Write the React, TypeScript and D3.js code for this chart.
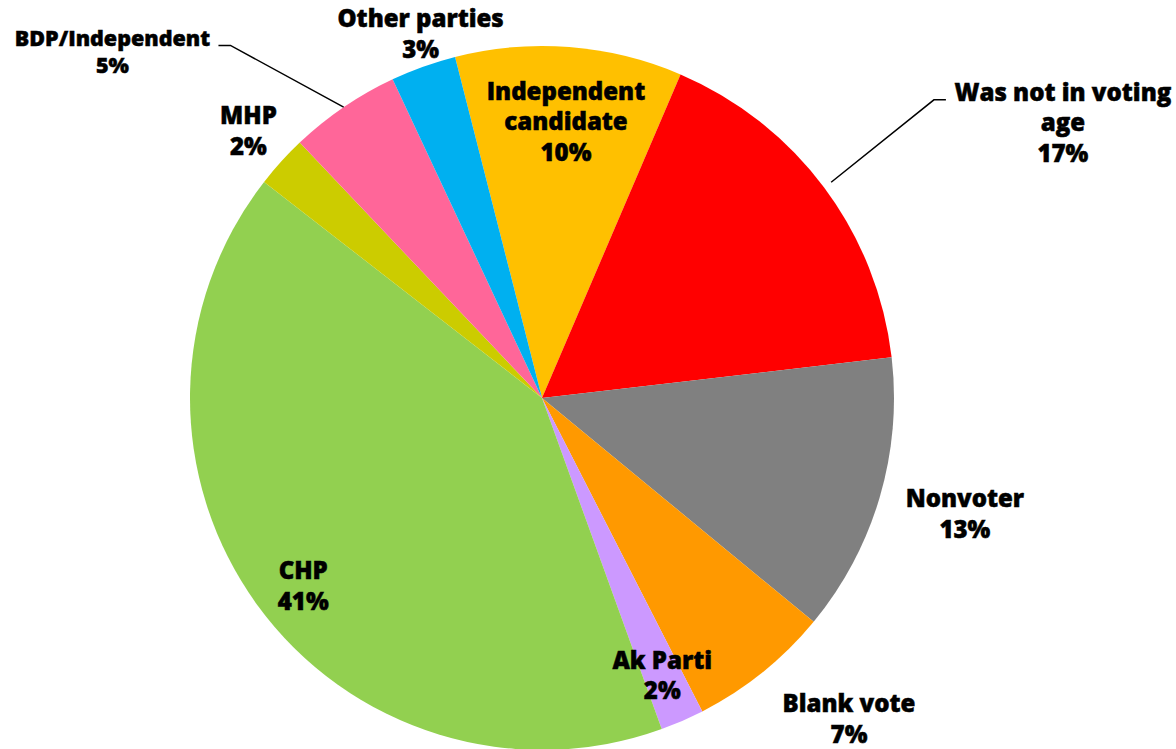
import React from "react";
import * as d3 from "d3";

// ─── Data ─────────────────────────────────────────────────────────────────────
const CATEGORIES = [
  "Independent candidate",
  "Was not in voting age",
  "Nonvoter",
  "Blank vote",
  "Ak Parti",
  "CHP",
  "MHP",
  "BDP/Independent",
  "Other parties",
];
const SHARES = [10.4, 16.7, 12.8, 6.5, 2.0, 41.0, 2.4, 5.1, 3.0];
// how each label wraps
const LABEL_LINES = [
  ["Independent", "candidate"],
  ["Was not in voting", "age"],
  ["Nonvoter"],
  ["Blank vote"],
  ["Ak Parti"],
  ["CHP"],
  ["MHP"],
  ["BDP/Independent"],
  ["Other parties"],
];

// ─── Design tokens ────────────────────────────────────────────────────────────
const W = 1176;
const H = 749;
const CX = 542;
const CY = 398;
const R = 352;
const START_DEG = -14.3;
const COLORS = [
  "#FFC000",
  "#FF0000",
  "#808080",
  "#FF9900",
  "#CC99FF",
  "#92D050",
  "#CCCC00",
  "#FF6699",
  "#00B0F0",
];
const FONT = "'Open Sans', Roboto, 'Liberation Sans', Arial, sans-serif";

// label placement: radius as a fraction of R, angle offset from slice middle (deg)
const LABEL_LAYOUT = [
  { r: 0.791, da: 0.5, size: 24, lh: 30.5 },
  { r: 1.675, da: 8.8, size: 24, lh: 30.5, leader: { dx: -117, dy: -22, elbow: 12, end: 1.025 } },
  { r: 1.245, da: -1.2, size: 24, lh: 31 },
  { r: 1.26, da: -5, size: 24, lh: 30.5 },
  { r: 0.857, da: 0, size: 24, lh: 30.5 },
  { r: 0.861, da: -2, size: 24, lh: 31 },
  { r: 1.129, da: 0.2, size: 24, lh: 30.5 },
  { r: 1.568, da: -16.8, size: 21.5, lh: 27, leader: { dx: 106, dy: -6, elbow: -12, end: 1.0 } },
  { r: 1.092, da: 1.3, size: 24, lh: 30.6 },
];

const rad = (deg: number) => (deg * Math.PI) / 180;
const polar = (a: number, r: number): [number, number] => [
  CX + r * Math.sin(a),
  CY - r * Math.cos(a),
];

export default function App() {
  const data = CATEGORIES.map((name, i) => ({ name, value: SHARES[i], i }));
  const total = d3.sum(SHARES);

  const pie = d3
    .pie<{ name: string; value: number; i: number }>()
    .value((d) => d.value)
    .sort(null)
    .startAngle(rad(START_DEG))
    .endAngle(rad(START_DEG) + 2 * Math.PI);

  const arc = d3
    .arc<d3.PieArcDatum<{ name: string; value: number; i: number }>>()
    .innerRadius(0)
    .outerRadius(R);

  const arcs = pie(data);

  return (
    <svg
      width={W}
      height={H}
      style={{ position: "absolute", left: 0, top: 0, background: "#fff" }}
      fontFamily={FONT}
    >
      <g transform={`translate(${CX},${CY})`}>
        {arcs.map((a) => (
          <path key={a.data.name} d={arc(a) || ""} fill={COLORS[a.data.i]} />
        ))}
      </g>

      {arcs.map((a) => {
        const lay = LABEL_LAYOUT[a.data.i];
        const mid = (a.startAngle + a.endAngle) / 2;
        const [lx, ly] = polar(mid + rad(lay.da), lay.r * R);
        const lines = [
          ...LABEL_LINES[a.data.i],
          `${Math.round((a.data.value / total) * 100)}%`,
        ];
        const top = ly - ((lines.length - 1) * lay.lh) / 2;
        let leader = null;
        if (lay.leader) {
          const sx = lx + lay.leader.dx;
          const sy = ly + lay.leader.dy;
          const [ex, ey] = polar(mid, R * lay.leader.end);
          leader = (
            <polyline
              points={`${sx},${sy} ${sx - lay.leader.elbow},${sy} ${ex},${ey}`}
              fill="none"
              stroke="#000"
              strokeWidth={1.5}
            />
          );
        }
        return (
          <g key={a.data.name}>
            {leader}
            <text
              textAnchor="middle"
              fontSize={lay.size}
              fontWeight={800}
              fill="#000"
              stroke="#000"
              strokeWidth={0.5}
            >
              {lines.map((t, k) => (
                <tspan
                  key={k}
                  x={lx}
                  y={top + k * lay.lh}
                  dominantBaseline="central"
                >
                  {t}
                </tspan>
              ))}
            </text>
          </g>
        );
      })}
    </svg>
  );
}
